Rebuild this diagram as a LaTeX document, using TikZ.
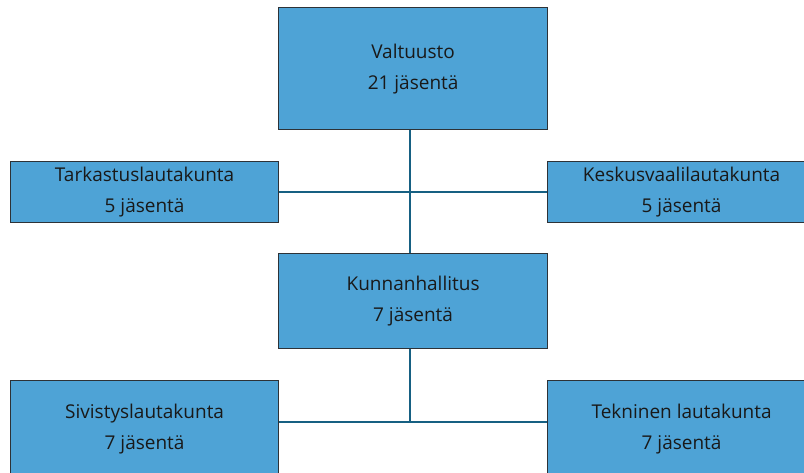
\documentclass[tikz,border=0pt]{standalone}
\usepackage{fontspec}
\setmainfont{Open Sans}
\definecolor{boxfill}{RGB}{78,163,214}
\definecolor{boxdraw}{RGB}{45,50,55}
\definecolor{linecol}{RGB}{22,96,130}
\definecolor{txt}{RGB}{25,25,25}
\tikzset{
  orgbox/.style={draw=boxdraw, fill=boxfill, line width=1.2pt, minimum width=269pt, inner sep=0pt, text=txt, align=center, font=\fontsize{19}{31}\selectfont},
  conn/.style={draw=linecol, line width=2pt}
}
\begin{document}
\begin{tikzpicture}[x=1pt,y=-1pt]
\useasboundingbox (0,0) rectangle (804,473);
\clip (0,0) rectangle (804,473);
\node[orgbox, minimum height=122pt, anchor=north west] (valt) at (278,7) {Valtuusto\\21 jäsentä};
\node[orgbox, minimum width=268pt, minimum height=61pt, anchor=north west] (tark) at (10,161) {Tarkastuslautakunta\\5 jäsentä};
\node[orgbox, minimum width=268pt, minimum height=61pt, anchor=north west] (kesk) at (547,161) {Keskusvaalilautakunta\\5 jäsentä};
\node[orgbox, minimum height=95pt, anchor=north west] (kunn) at (278,253) {Kunnanhallitus\\7 jäsentä};
\node[orgbox, minimum width=268pt, minimum height=96pt, anchor=north west] (sivi) at (10,380) {Sivistyslautakunta\\7 jäsentä};
\node[orgbox, minimum width=268pt, minimum height=96pt, anchor=north west] (tekn) at (547,380) {Tekninen lautakunta\\7 jäsentä};
\coordinate (vx) at (410,0);
\coordinate (lowy) at (0,422);
\draw[conn] (vx |- valt.south) -- (vx |- kunn.north);
\draw[conn] (tark.east) -- (kesk.west);
\draw[conn] (vx |- kunn.south) -- (vx |- lowy);
\draw[conn] (sivi.east |- lowy) -- (tekn.west |- lowy);
\end{tikzpicture}
\end{document}
